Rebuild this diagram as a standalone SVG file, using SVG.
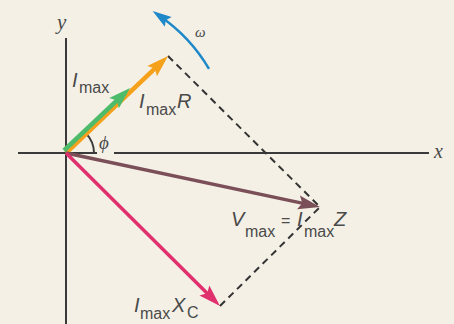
<svg xmlns="http://www.w3.org/2000/svg" width="454" height="324" viewBox="0 0 454 324">
<style>
.axis{stroke:#3a3a3a;stroke-width:2;fill:none}
.dash{stroke:#333;stroke-width:2;stroke-dasharray:7 5;fill:none}
.var{font-family:"Liberation Sans",Arial,sans-serif;font-style:italic;font-size:20px;fill:#4a4a4a}
.sub{font-family:"Liberation Sans",Arial,sans-serif;font-size:16px;fill:#4a4a4a}
.ser{font-family:"Liberation Serif","Times New Roman",serif;font-style:italic;fill:#4a4a4a}
</style>
<defs>
<marker id="hOr" markerUnits="userSpaceOnUse" markerWidth="24" markerHeight="14" refX="12" refY="7" orient="auto" overflow="visible"><path d="M0,0 L22,7 L0,14 L4,7 z" fill="#f5a11c"/></marker>
<marker id="hGr" markerUnits="userSpaceOnUse" markerWidth="24" markerHeight="14" refX="12" refY="7" orient="auto" overflow="visible"><path d="M0,0 L22,7 L0,14 L4,7 z" fill="#4dbb6a"/></marker>
<marker id="hBr" markerUnits="userSpaceOnUse" markerWidth="24" markerHeight="14" refX="12" refY="7" orient="auto" overflow="visible"><path d="M0,0 L22,7 L0,14 L4,7 z" fill="#7b4f58"/></marker>
<marker id="hPk" markerUnits="userSpaceOnUse" markerWidth="24" markerHeight="14" refX="12" refY="7" orient="auto" overflow="visible"><path d="M0,0 L22,7 L0,14 L4,7 z" fill="#e0306e"/></marker>
<marker id="hBl" markerUnits="userSpaceOnUse" markerWidth="20" markerHeight="12" refX="10" refY="6" orient="auto" overflow="visible"><path d="M0,0 L19,6 L0,12 L3,6 z" fill="#1f88c8"/></marker>
</defs>
<rect width="454" height="324" fill="#f4f0e6"/>
<g id="axes">
<line class="axis" x1="66" y1="38" x2="66" y2="324"/>
<line class="axis" x1="18" y1="153" x2="97" y2="153"/>
<line class="axis" x1="114" y1="153" x2="429" y2="153"/>
<path class="axis" d="M94 153 A28 28 0 0 0 86.2 133.6" stroke-width="1.6"/>
</g>
<g id="connectors">
<line class="dash" x1="168" y1="56" x2="320" y2="207"/>
<line class="dash" x1="220" y1="306" x2="320" y2="207"/>
</g>
<g id="vec-orange"><line x1="66" y1="153" x2="160.8" y2="62.9" stroke="#f5a11c" stroke-width="4.5" marker-end="url(#hOr)"/></g>
<g id="vec-green"><line x1="64" y1="150.5" x2="122.8" y2="94.9" stroke="#4dbb6a" stroke-width="4.5" marker-end="url(#hGr)"/></g>
<g id="vec-brown"><line x1="66" y1="153" x2="310.2" y2="204.9" stroke="#7b4f58" stroke-width="3.5" marker-end="url(#hBr)"/></g>
<g id="vec-pink"><line x1="66" y1="153" x2="212.9" y2="298.9" stroke="#e0306e" stroke-width="3.5" marker-end="url(#hPk)"/></g>
<g id="omega-arrow"><path d="M209 68.8 A166 166 0 0 0 160 16.2" fill="none" stroke="#1f88c8" stroke-width="2.5" marker-end="url(#hBl)"/></g>
<g id="labels">
<text class="ser" x="57" y="29" font-size="21">y</text>
<text class="ser" x="434" y="158" font-size="20">x</text>
<text class="ser" x="195" y="37" font-size="15">ω</text>
<text class="ser" x="99" y="149" font-size="19">ϕ</text>
<text><tspan class="var" x="72" y="87">I</tspan><tspan class="sub" x="79" y="93">max</tspan></text>
<text><tspan class="var" x="139" y="108">I</tspan><tspan class="sub" x="146" y="115">max</tspan><tspan class="var" x="177" y="108">R</tspan></text>
<text><tspan class="var" x="231" y="226">V</tspan><tspan class="sub" x="245" y="237">max</tspan><tspan class="sub" x="281" y="226" font-size="20">=</tspan><tspan class="var" x="297" y="226">I</tspan><tspan class="sub" x="304" y="237">max</tspan><tspan class="var" x="334" y="226">Z</tspan></text>
<text><tspan class="var" x="134" y="312">I</tspan><tspan class="sub" x="140" y="319">max</tspan><tspan class="var" x="172" y="312">X</tspan><tspan class="sub" x="187" y="318">C</tspan></text>
</g>
</svg>
